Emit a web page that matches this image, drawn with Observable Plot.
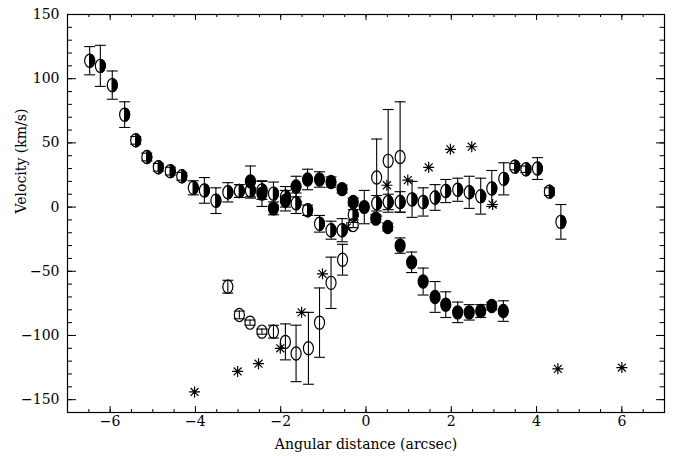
<!DOCTYPE html>
<html>
<head>
<meta charset="utf-8">
<script src="https://cdn.jsdelivr.net/npm/d3@7"></script>
<script src="https://cdn.jsdelivr.net/npm/@observablehq/plot@0.6"></script>
<style>
  html, body { margin: 0; padding: 0; background: #fff; }
</style>
</head>
<body>
<div id="chart"></div>
<script>
// ---- Data ----
// Half-filled markers (left open, right filled)
const halfX = [-6.48,-6.23,-5.95,-5.66,-5.40,-5.14,-4.87,-4.59,-4.32,-4.05,-3.79,-3.52,-3.24,-2.97,-2.71,-2.44,-2.17,-1.89,-1.64,-1.37,-1.09,-0.82,-0.56,-0.30,0.25,0.52,0.80,1.08,1.34,1.62,1.87,2.15,2.42,2.69,2.95,3.23,3.49,3.75,4.02,4.30,4.57];
const halfV = [114,110,95,72,52,39,31,28,24,15,13,5,11.5,12.5,13,13,10.5,8,3,-2.5,-13,-18,-18,-6,3,4,4,6,4,7.5,12.5,13.5,11.5,8.5,14.5,22,31.5,29.5,30,12,-11.5];
const halfErr = [11,16,11,10,3,3,3,3,3,5.5,10,10,7.5,5,6,7,9,8,8,4,6.5,7,9,4,6,6,8,14,11,10,9,9,12.5,14,14,12.5,2.5,2.5,8.5,3,13.5];

// Filled markers
const fillX = [-2.71,-2.44,-2.17,-1.89,-1.64,-1.37,-1.09,-0.82,-0.56,-0.30,-0.04,0.23,0.51,0.80,1.07,1.34,1.62,1.87,2.15,2.42,2.69,2.95,3.22];
const fillV = [20,10.5,-1,5,16,21.5,21.5,19.5,14,4,0,-9,-15.5,-30,-43,-58,-70,-76,-82,-82,-81,-77,-81];
const fillErr = [12,10,5,8,8,8,6,4,3,3,13,3,3,6,8,10.5,12,10,8,6,5,3,8];

// Open markers
const openX = [-3.24,-2.97,-2.72,-2.44,-2.17,-1.89,-1.64,-1.35,-1.09,-0.82,-0.55,-0.30,0.25,0.52,0.80];
const openV = [-62,-84,-90,-97,-97,-105,-114,-110,-90,-59,-41,-14,23,36,39];
const openErr = [5,3,2,2,5,14,22,28,27,20,12,2,30,40,43];

// Asterisks
const starX = [-4.02,-3.01,-2.52,-2.01,-1.51,-1.02,-0.45,0.49,0.98,1.47,1.98,2.48,2.97,4.50,6.00];
const starV = [-144,-128,-122,-110,-82,-52,-16,17,21,31,45,47,2,-126,-125];

// Ticks
const xMajor = [-6,-4,-2,0,2,4,6];
const xMinor = d3.range(-7, 7.01, 0.5);
const yMajor = [-150,-100,-50,0,50,100,150];
const yMinor = d3.range(-160, 150.1, 10);

// ---- Build tables ----
const rows = (X, V, E) => X.map((x, i) => ({x, v: V[i], e: E ? E[i] : 0}));
const half = rows(halfX, halfV, halfErr);
const filled = rows(fillX, fillV, fillErr);
const open = rows(openX, openV, openErr);
const stars = rows(starX, starV);

// ---- Custom symbols ----
const K = 0.5523;
const RX = 0.76; // horizontal squeeze of the ellipses
function ellipsePath(ctx, rx, ry) {
  ctx.moveTo(0, -ry);
  ctx.bezierCurveTo(K*rx, -ry, rx, -K*ry, rx, 0);
  ctx.bezierCurveTo(rx, K*ry, K*rx, ry, 0, ry);
  ctx.bezierCurveTo(-K*rx, ry, -rx, K*ry, -rx, 0);
  ctx.bezierCurveTo(-rx, -K*ry, -K*rx, -ry, 0, -ry);
  ctx.closePath();
}
const ellipseSym = {draw(ctx, size) { const r = Math.sqrt(size / Math.PI); ellipsePath(ctx, r*RX, r); }};
const rightHalfSym = {draw(ctx, size) {
  const r = Math.sqrt(size / Math.PI), rx = r*RX, ry = r;
  ctx.moveTo(0, -ry);
  ctx.bezierCurveTo(K*rx, -ry, rx, -K*ry, rx, 0);
  ctx.bezierCurveTo(rx, K*ry, K*rx, ry, 0, ry);
  ctx.closePath();
}};
const capSym = {draw(ctx, size) { const r = Math.sqrt(size / Math.PI); ctx.moveTo(-r, 0); ctx.lineTo(r, 0); }};
const starSym = {draw(ctx, size) {
  const r = Math.sqrt(size / Math.PI), d = r * 0.72;
  ctx.moveTo(-r, 0); ctx.lineTo(r, 0);
  ctx.moveTo(0, -r); ctx.lineTo(0, r);
  ctx.moveTo(-d, -d); ctx.lineTo(d, d);
  ctx.moveTo(-d, d); ctx.lineTo(d, -d);
}};

const W = 679, H = 456, ML = 67, MR = 15, MT = 14, MB = 44;
const innerW = W - ML - MR, innerH = H - MT - MB;
const fmt = d3.format("d");
const MR_ = 6.6; // marker radius

function errorMarks(data) {
  return [
    Plot.ruleX(data, {x: "x", y1: d => d.v - d.e, y2: d => d.v + d.e, stroke: "black", strokeWidth: 1.1}),
    Plot.dot(data, {x: "x", y: d => d.v + d.e, symbol: capSym, r: 5.5, stroke: "black", fill: "none", strokeWidth: 1.1}),
    Plot.dot(data, {x: "x", y: d => d.v - d.e, symbol: capSym, r: 5.5, stroke: "black", fill: "none", strokeWidth: 1.1})
  ];
}

const chart = Plot.plot({
  width: W, height: H,
  marginLeft: ML, marginRight: MR, marginTop: MT, marginBottom: MB,
  x: {domain: [-7, 7]},
  y: {domain: [-160, 150]},
  style: {fontFamily: "'DejaVu Serif', serif", fontSize: "14px", color: "black", background: "white"},
  marks: [
    Plot.frame({stroke: "black", strokeWidth: 1.2}),
    // inward ticks: bottom & top
    Plot.tickX(xMajor, {x: d => d, insetTop: innerH - 6, stroke: "black"}),
    Plot.tickX(xMinor, {x: d => d, insetTop: innerH - 3, stroke: "black"}),
    Plot.tickX(xMajor, {x: d => d, insetBottom: innerH - 6, stroke: "black"}),
    Plot.tickX(xMinor, {x: d => d, insetBottom: innerH - 3, stroke: "black"}),
    // inward ticks: left & right
    Plot.tickY(yMajor, {y: d => d, insetRight: innerW - 9, stroke: "black"}),
    Plot.tickY(yMinor, {y: d => d, insetRight: innerW - 5, stroke: "black"}),
    Plot.tickY(yMajor, {y: d => d, insetLeft: innerW - 8, stroke: "black"}),
    Plot.tickY(yMinor, {y: d => d, insetLeft: innerW - 4.5, stroke: "black"}),
    Plot.axisX({ticks: xMajor, tickSize: 0, tickPadding: 4, tickFormat: fmt, label: null, fontSize: 14}),
    Plot.axisY({ticks: yMajor, tickSize: 0, tickPadding: 8, tickFormat: fmt, label: null, fontSize: 14}),
    Plot.text(["Angular distance (arcsec)"], {frameAnchor: "bottom", dy: 36, lineAnchor: "bottom", fontSize: 14}),
    Plot.text(["Velocity (km/s)"], {frameAnchor: "left", dx: -46, rotate: -90, fontSize: 14}),
    // error bars
    ...errorMarks(half),
    ...errorMarks(filled),
    ...errorMarks(open),
    // markers
    Plot.dot(open, {x: "x", y: "v", symbol: ellipseSym, r: MR_, stroke: "black", fill: "none", strokeWidth: 1.2}),
    Plot.dot(filled, {x: "x", y: "v", symbol: ellipseSym, r: MR_, stroke: "black", fill: "black", strokeWidth: 1.2}),
    Plot.dot(half, {x: "x", y: "v", symbol: ellipseSym, r: MR_, stroke: "black", fill: "none", strokeWidth: 1.2}),
    Plot.dot(half, {x: "x", y: "v", symbol: rightHalfSym, r: MR_, stroke: "black", fill: "black", strokeWidth: 1.2}),
    Plot.dot(stars, {x: "x", y: "v", symbol: starSym, r: 5.5, stroke: "black", fill: "none", strokeWidth: 1.2})
  ]
});
document.getElementById("chart").appendChild(chart);
</script>
</body>
</html>
